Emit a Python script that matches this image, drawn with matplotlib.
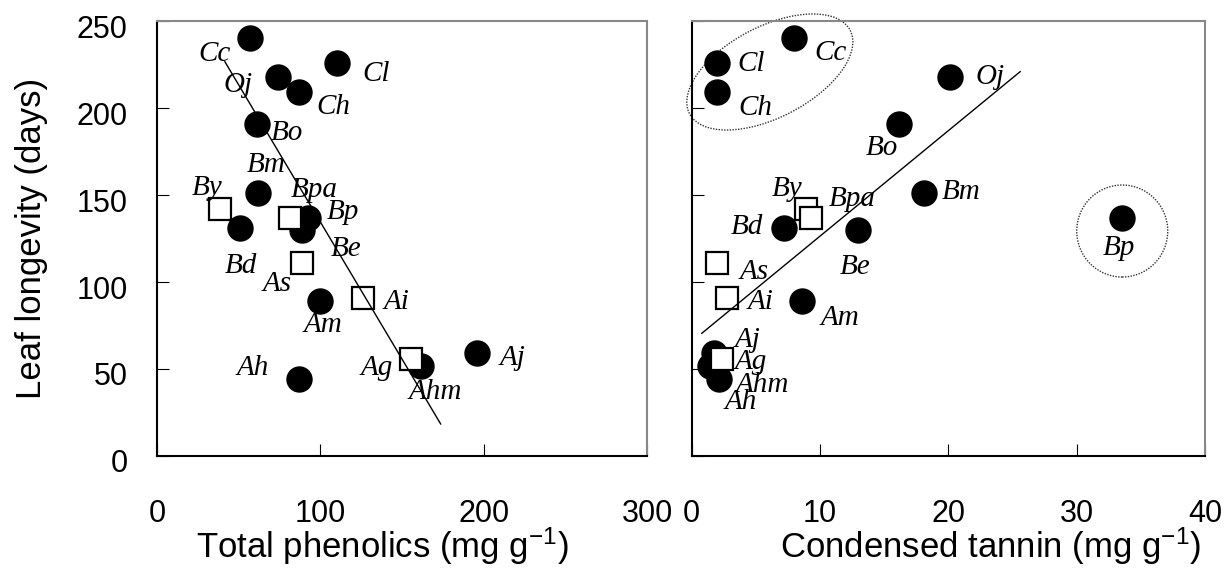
import numpy as np
import matplotlib
matplotlib.use("Agg")
import matplotlib.pyplot as plt
from matplotlib.patches import Ellipse
from matplotlib.transforms import ScaledTranslation

plt.rcParams["font.family"] = ["Liberation Sans", "DejaVu Sans"]
plt.rcParams["mathtext.fontset"] = "custom"
plt.rcParams["mathtext.rm"] = "Liberation Sans"
plt.rcParams["mathtext.default"] = "regular"

# species codes with leaf longevity (days), total phenolics and condensed tannin (mg/g)
species = ["Cc", "Cl", "Oj", "Ch", "Bo", "Bm", "By", "Bpa", "Bp",
           "Bd", "Be", "As", "Ai", "Am", "Aj", "Ag", "Ahm", "Ah"]
longevity = [240, 226, 218, 209, 191, 151, 142, 137, 137,
             131, 130, 111, 91, 89, 59, 56, 52, 44]
phenolics = [57, 110, 74, 87, 61, 62, 38.6, 81.4, 92.5,
             51, 89, 89, 126, 100, 196, 155.5, 161.6, 87]
tannin = [7.95, 2.0, 20.1, 2.0, 16.2, 18.1, 8.9, 9.3, 33.55,
          7.2, 13.0, 2.0, 2.76, 8.6, 1.75, 2.4, 1.44, 2.16]
open_species = ["By", "Bpa", "As", "Ai", "Ag"]

# regression lines (end points)
fit_phen_x = [41.6, 173.7]
fit_phen_y = [226.6, 18.4]
fit_tan_x = [0.8, 25.6]
fit_tan_y = [70.5, 220.9]

# label offsets in pixels (right, down)
off_left = {"Cc": (-36, 16), "Oj": (-40, 8), "Cl": (39, 11), "Ch": (34, 15),
            "Bo": (30, 9), "Bm": (8, -28), "By": (-13, -21), "Bpa": (24, -28),
            "Bp": (35, -6), "Be": (44, 19), "Bd": (1, 38), "As": (-25, 21),
            "Am": (3, 24), "Ai": (34, 4), "Ag": (-34, 9), "Ahm": (14, 26),
            "Aj": (35, 5), "Ah": (-46, -11)}
off_right = {"Cl": (34, 1), "Ch": (38, 16), "Cc": (37, 15), "Oj": (41, 0),
             "Bo": (-18, 24), "Bm": (37, -1), "By": (-19, -20), "Bpa": (41, -19),
             "Bd": (-37, -1), "Be": (-3, 37), "As": (37, 9), "Ai": (34, 4),
             "Am": (38, 17), "Aj": (34, -13), "Ag": (28, 3), "Ahm": (52, 19),
             "Ah": (22, 23), "Bp": (-3, 30)}

fig = plt.figure(figsize=(12.3, 5.68), dpi=100)
ax1 = fig.add_axes([0.1276, 0.1972, 0.3984, 0.7658])
ax2 = fig.add_axes([0.5622, 0.1972, 0.4175, 0.7658])


def draw_panel(ax, xs, offsets, fit_x, fit_y):
    for sp, x, y in zip(species, xs, longevity):
        if sp not in open_species:
            ax.plot(x, y, "o", ms=18, color="black", clip_on=False, zorder=3)
    for sp, x, y in zip(species, xs, longevity):
        if sp in open_species:
            ax.plot(x, y, "s", ms=16.5, mfc="white", mec="black", mew=1.6,
                    clip_on=False, zorder=4)
    ax.plot(fit_x, fit_y, color="black", lw=1.0, zorder=5)
    for sp, x, y in zip(species, xs, longevity):
        dx, dy = offsets[sp]
        ax.annotate(sp, (x, y), xytext=(dx, -dy), textcoords="offset pixels",
                    ha="center", va="center", fontsize=21, style="italic",
                    family="Liberation Serif", zorder=6)
    ax.set_ylim(0, 250)
    ax.set_yticks([0, 50, 100, 150, 200, 250])
    ax.tick_params(direction="in", length=8.5, width=0.8, labelsize=22)
    for side in ["left", "bottom"]:
        ax.spines[side].set_color("black")
        ax.spines[side].set_linewidth(1.5)
    for side in ["top", "right"]:
        ax.spines[side].set_color("#888888")
        ax.spines[side].set_linewidth(1.5)


draw_panel(ax1, phenolics, off_left, fit_phen_x, fit_phen_y)
draw_panel(ax2, tannin, off_right, fit_tan_x, fit_tan_y)

ax1.set_xlim(0, 300)
ax1.set_xticks([0, 100, 200, 300])
ax1.tick_params(axis="x", pad=31)
ax1.tick_params(axis="y", pad=21)
shift = ScaledTranslation(0, -5 / 100, fig.dpi_scale_trans)
for lab in ax1.get_yticklabels():
    lab.set_transform(lab.get_transform() + shift)
ax1.set_ylabel("Leaf longevity (days)", fontsize=25)
ax1.yaxis.set_label_coords(-0.222, 0.5)
ax1.set_xlabel("Total phenolics (mg g$^{-1}$)", fontsize=25)
ax1.xaxis.set_label_coords(0.459, -0.16)

ax2.set_xlim(0, 40)
ax2.set_xticks([0, 10, 20, 30, 40])
ax2.tick_params(axis="x", pad=31)
ax2.tick_params(axis="y", labelleft=False)
ax2.set_xlabel("Condensed tannin (mg g$^{-1}$)", fontsize=25)
ax2.xaxis.set_label_coords(0.583, -0.16)

# dotted groupings
i_bp = species.index("Bp")
e1 = Ellipse((0, 0), 1.81, 0.91, angle=27.4, fill=False, ls=(0, (1, 1)),
             lw=1.0, ec="#333333", clip_on=False,
             transform=fig.dpi_scale_trans + ScaledTranslation(6.1, 220.7, ax2.transData))
e2 = Ellipse((0, 0), 0.91, 0.92, fill=False, ls=(0, (1, 1)), lw=1.0, ec="#333333",
             clip_on=False,
             transform=fig.dpi_scale_trans + ScaledTranslation(tannin[i_bp], 129.3, ax2.transData))
ax2.add_artist(e1)
ax2.add_artist(e2)

fig.savefig("out.png", dpi=100)
